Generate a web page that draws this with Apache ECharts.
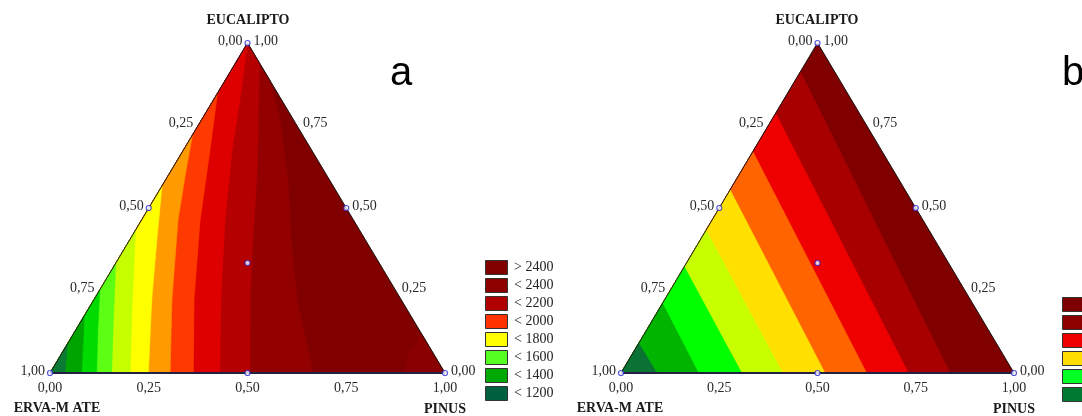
<!DOCTYPE html>
<html><head><meta charset="utf-8">
<script src="https://cdn.jsdelivr.net/npm/echarts@6/dist/echarts.min.js"></script>
<style>html,body{margin:0;padding:0;background:#fff}#c{width:1082px;height:416px}</style>
</head><body><div id="c"></div>
<script>
// ---------- data ----------
const tickValues = [0, 0.25, 0.5, 0.75, 1];
const tickLabels = ['0,00', '0,25', '0,50', '0,75', '1,00'];
const titleTop = 'EUCALIPTO';
const titleLeft = 'ERVA-M ATE';
const titleRight = 'PINUS';
const panelLetters = ['a', 'b'];
// design points as [pinus, eucalipto] (erva-mate = 1 - pinus - eucalipto)
const designPoints = [[0, 0], [1, 0], [0, 1], [0.5, 0], [0, 0.5], [0.5, 0.5], [1 / 3, 1 / 3]];

// Chart a: contour boundaries, [pinus, eucalipto] points from bottom edge up to a triangle edge
const boundariesA = [
  [[0.038, 0], [0, 0.088]],
  [[0.080, 0], [0.041, 0.085], [0, 0.173]],
  [[0.118, 0], [0.056, 0.130], [0, 0.252]],
  [[0.156, 0], [0.080, 0.161], [0, 0.333]],
  [[0.203, 0], [0.112, 0.191], [0, 0.433]],
  [[0.249, 0], [0.147, 0.221], [0.069, 0.403], [0, 0.567]],
  [[0.304, 0], [0.198, 0.221], [0.092, 0.464], [0.037, 0.615], [0, 0.721]],
  [[0.363, 0], [0.254, 0.221], [0.148, 0.464], [0.067, 0.676], [0, 0.848]],
  [[0.430, 0], [0.322, 0.221], [0.211, 0.464], [0.123, 0.676], [0.067, 0.827], [0, 1]],
  [[0.506, 0], [0.396, 0.221], [0.312, 0.403], [0.217, 0.615], [0.061, 0.939]],
  [[0.666, 0], [0.515, 0.221], [0.409, 0.403], [0.310, 0.585], [0.199, 0.767], [0.112, 0.888]]
];
const cornerA = [[0.899, 0], [0.879, 0.055], [0.882, 0.118]];
const bandColorsA = ['#0c7a34', '#00a400', '#00dc00', '#5cff14', '#c6ff00', '#ffff00',
  '#ff9a00', '#ff3a00', '#de0000', '#b40000', '#920000', '#800000'];
const cornerColorA = '#8a0000';
const legendLabelsA = ['> 2400', '< 2400', '< 2200', '< 2000', '< 1800', '< 1600', '< 1400', '< 1200'];
const legendColorsA = ['#800000', '#8c0000', '#b00000', '#ff3300', '#ffff00', '#55ff22', '#00aa00', '#006040'];

// Chart b: straight contour boundaries from bottom edge to left edge
const boundariesB = [
  [[0.091, 0], [0, 0.090]],
  [[0.197, 0], [0, 0.211]],
  [[0.307, 0], [0, 0.322]],
  [[0.411, 0], [0, 0.433]],
  [[0.519, 0], [0, 0.555]],
  [[0.625, 0], [0, 0.671]],
  [[0.731, 0], [0, 0.787]],
  [[0.837, 0], [0, 0.913]]
];
const bandColorsB = ['#0a7232', '#00b400', '#00ff00', '#c8ff00', '#ffe000', '#ff6400', '#ee0000', '#a80000', '#800000'];
const legendColorsB = ['#7e0000', '#8c0000', '#ee0000', '#ffdd00', '#00ff22', '#007a33'];

// ---------- helpers ----------
const toXY = pt => [pt[0] + pt[1] / 2, pt[1]];
const TRI = [[0, 0], [1, 0], [0, 1]];
function leftRegion(b) {
  const pts = b.slice();
  const last = pts[pts.length - 1];
  if (last[0] > 1e-6) pts.push([0, 1]);
  pts.push([0, 0]);
  return pts;
}
function buildLayers(bounds, colors, corner, cornerColor) {
  const layers = [{ pts: TRI, color: colors[colors.length - 1] }];
  if (corner) layers.push({ pts: corner.concat([[1, 0]]), color: cornerColor });
  for (let k = bounds.length - 1; k >= 0; k--) layers.push({ pts: leftRegion(bounds[k]), color: colors[k] });
  return layers;
}
const layersA = buildLayers(boundariesA, bandColorsA, cornerA, cornerColorA);
const layersB = buildLayers(boundariesB, bandColorsB, null, null);

const SERIF = '"Liberation Serif","Times New Roman",serif';
const tickItems = [];
tickValues.forEach((t, i) => {
  tickItems.push({ pt: [t, 0], text: tickLabels[i], align: 'center', va: 'top', dx: 0, dy: 8 });
  tickItems.push({ pt: [0, 1 - t], text: tickLabels[i], align: 'right', va: 'middle', dx: -5, dy: -2 });
  tickItems.push({ pt: [1 - t, t], text: tickLabels[i], align: 'left', va: 'middle', dx: 6, dy: -2 });
});

function panelSeries(gi, layers) {
  return [
    {
      type: 'custom', xAxisIndex: gi, yAxisIndex: gi, silent: true, z: 1,
      data: layers.map((l, i) => [i]),
      renderItem: (params, api) => {
        const L = layers[params.dataIndex];
        return {
          type: 'polygon',
          shape: { points: L.pts.map(p => api.coord(toXY(p))) },
          style: { fill: L.color, stroke: L.color, lineWidth: 0.6 }
        };
      }
    },
    {
      type: 'line', xAxisIndex: gi, yAxisIndex: gi, silent: true, z: 3, symbol: 'none',
      data: [[0, 0], [0, 1], [1, 0]].map(p => toXY(p)),
      lineStyle: { color: '#1a1a1a', width: 1 }
    },
    {
      type: 'line', xAxisIndex: gi, yAxisIndex: gi, silent: true, z: 3, symbol: 'none',
      data: [[0, 0], [1, 0]].map(p => toXY(p)),
      lineStyle: { color: '#222240', width: 2 }
    },
    {
      type: 'scatter', xAxisIndex: gi, yAxisIndex: gi, silent: true, z: 5,
      symbol: 'circle', symbolSize: 5,
      data: designPoints.map(p => toXY(p)),
      itemStyle: { color: '#ffffff', borderColor: '#2b2bd0', borderWidth: 1.2 }
    },
    {
      type: 'custom', xAxisIndex: gi, yAxisIndex: gi, silent: true, z: 6,
      data: tickItems.map((t, i) => [i]),
      renderItem: (params, api) => {
        const T = tickItems[params.dataIndex];
        const c = api.coord(toXY(T.pt));
        return {
          type: 'text', x: c[0] + T.dx, y: c[1] + T.dy,
          style: { text: T.text, font: '14px ' + SERIF, fill: '#2a2a2a', align: T.align, verticalAlign: T.va }
        };
      }
    }
  ];
}

const grids = [
  { left: 50, top: 43, width: 395, height: 330 },
  { left: 621, top: 43, width: 393, height: 330 }
];
const axisCommon = { type: 'value', min: 0, max: 1, show: false };

const graphics = [];
const titleFont = 'bold 14px ' + SERIF;
[[248, 57, 445], [817, 620, 1014]].forEach((c, gi) => {
  graphics.push({ type: 'text', x: c[0], y: 20, style: { text: titleTop, font: titleFont, fill: '#1a1a1a', align: 'center', verticalAlign: 'middle' } });
  graphics.push({ type: 'text', x: c[1], y: 408, style: { text: titleLeft, font: titleFont, fill: '#1a1a1a', align: 'center', verticalAlign: 'middle' } });
  graphics.push({ type: 'text', x: c[2], y: 409, style: { text: titleRight, font: titleFont, fill: '#1a1a1a', align: 'center', verticalAlign: 'middle' } });
});
graphics.push({ type: 'text', x: 390, y: 74, style: { text: panelLetters[0], font: '40px "Liberation Sans",Arial,sans-serif', fill: '#000', align: 'left', verticalAlign: 'middle' } });
graphics.push({ type: 'text', x: 1062, y: 74, style: { text: panelLetters[1], font: '40px "Liberation Sans",Arial,sans-serif', fill: '#000', align: 'left', verticalAlign: 'middle' } });
legendLabelsA.forEach((lab, i) => {
  graphics.push({ type: 'rect', shape: { x: 485.5, y: 260.5 + 18 * i, width: 22, height: 14 }, style: { fill: legendColorsA[i], stroke: '#333', lineWidth: 1 } });
  graphics.push({ type: 'text', x: 514, y: 267.5 + 18 * i, style: { text: lab, font: '14px ' + SERIF, fill: '#222', align: 'left', verticalAlign: 'middle' } });
});
legendColorsB.forEach((col, i) => {
  graphics.push({ type: 'rect', shape: { x: 1062.5, y: 297.5 + 18 * i, width: 24, height: 14 }, style: { fill: col, stroke: '#333', lineWidth: 1 } });
});

const chart = echarts.init(document.getElementById('c'), null, { renderer: 'canvas' });
chart.setOption({
  animation: false,
  backgroundColor: '#ffffff',
  grid: grids,
  xAxis: [Object.assign({ gridIndex: 0 }, axisCommon), Object.assign({ gridIndex: 1 }, axisCommon)],
  yAxis: [Object.assign({ gridIndex: 0 }, axisCommon), Object.assign({ gridIndex: 1 }, axisCommon)],
  series: panelSeries(0, layersA).concat(panelSeries(1, layersB)),
  graphic: graphics
});
</script></body></html>
